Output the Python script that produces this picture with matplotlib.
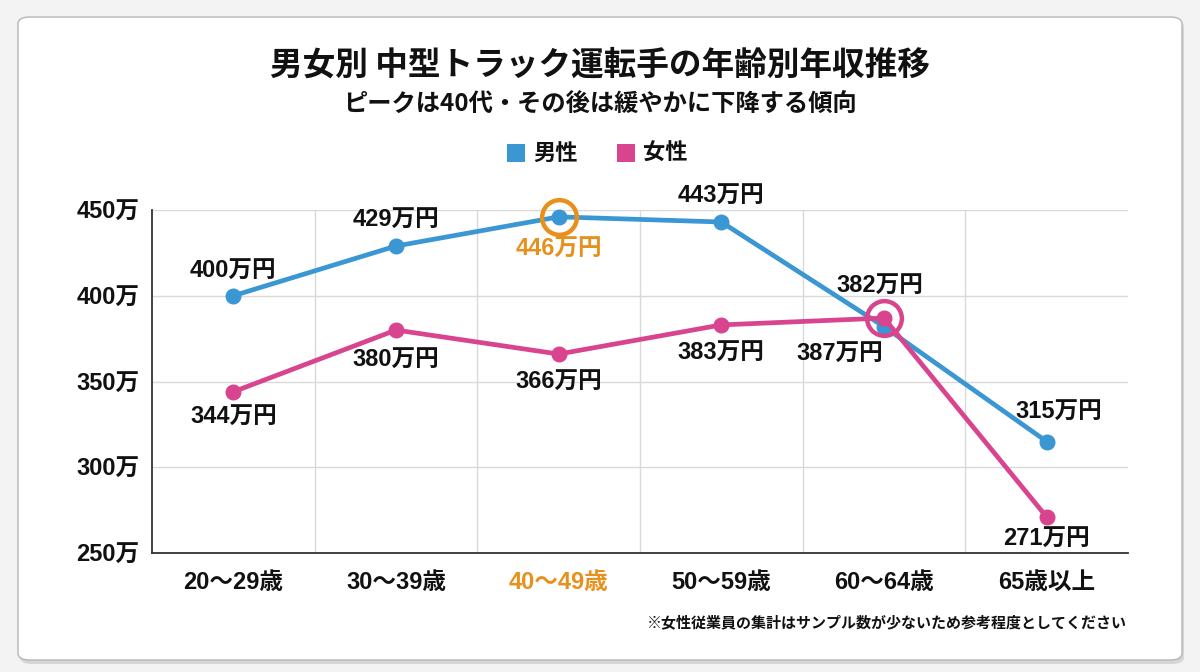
import matplotlib
matplotlib.use("Agg")
import matplotlib.pyplot as plt
from matplotlib.patches import FancyBboxPatch

plt.rcParams['font.family'] = ['Noto Sans CJK JP', 'DejaVu Sans']

categories = ["20〜29歳", "30〜39歳", "40〜49歳", "50〜59歳", "60〜64歳", "65歳以上"]
male = [400, 429, 446, 443, 382, 315]
female = [344, 380, 366, 383, 387, 271]
yticks = [250, 300, 350, 400, 450]
ytick_labels = ["250万", "300万", "350万", "400万", "450万"]

BLUE = "#3b97d3"
PINK = "#d9448f"
ORANGE = "#e8901c"
DARK = "#111111"
NUMFONT = ['Liberation Sans', 'Noto Sans CJK JP', 'DejaVu Sans']

fig = plt.figure(figsize=(12, 6.72), dpi=100)
fig.patch.set_facecolor("#f3f3f3")

# card with shadow
shadow = FancyBboxPatch((20 / 1200, 8 / 672), 1164 / 1200, 644 / 672,
                        boxstyle="round,pad=0,rounding_size=0.01",
                        transform=fig.transFigure, facecolor="#d6d6d6",
                        edgecolor="none", zorder=0)
card = FancyBboxPatch((18 / 1200, 12 / 672), 1164 / 1200, 643 / 672,
                      boxstyle="round,pad=0,rounding_size=0.01",
                      transform=fig.transFigure, facecolor="white",
                      edgecolor="#b5b5b5", linewidth=1.0, zorder=0.5)
fig.patches.extend([shadow, card])

ax = fig.add_axes([152 / 1200, 1 - 553 / 672, (1128 - 152) / 1200, (553 - 210) / 672])
ax.set_zorder(3)
ax.set_facecolor("none")
x = list(range(len(categories)))

ax.set_xlim(-0.5, len(categories) - 0.5)
ax.set_ylim(250, 450)
ax.set_yticks(yticks)
ax.set_yticklabels(ytick_labels, fontsize=17, fontweight="bold", color=DARK, family=NUMFONT)
ax.set_xticks(x)
ax.set_xticklabels(categories, fontsize=17, fontweight="bold", color=DARK, family=NUMFONT)
ax.get_xticklabels()[2].set_color(ORANGE)
ax.tick_params(axis="both", length=0)
ax.tick_params(axis="y", pad=9)
ax.tick_params(axis="x", pad=13)

for s in ["top", "right"]:
    ax.spines[s].set_visible(False)
for s in ["left", "bottom"]:
    ax.spines[s].set_color("#333333")
    ax.spines[s].set_linewidth(1.3)

for v in yticks[1:]:
    ax.axhline(v, color="#d9d9d9", lw=1.0, zorder=1)
for b in [i + 0.5 for i in x[:-1]]:
    ax.axvline(b, color="#d9d9d9", lw=1.0, zorder=1)

ax.plot(x, male, color=BLUE, lw=3.4, marker="o", ms=10.5, zorder=3, clip_on=False)
ax.plot(x, female, color=PINK, lw=3.4, marker="o", ms=10.5, zorder=4, clip_on=False)

# highlight rings
ax.plot([x[2]], [male[2]], marker="o", ms=25, mfc="none", mec=ORANGE, mew=3.2, zorder=5, clip_on=False)
ax.plot([x[4]], [female[4]], marker="o", ms=25, mfc="none", mec=PINK, mew=3.2, zorder=5, clip_on=False)

lab_kw = dict(fontsize=17, fontweight="bold", color=DARK, ha="center", va="center",
              zorder=6, family=NUMFONT)
male_off = [(0, 24), (0, 26), (0, -32), (0, 26), (-4, 40), (12, 29)]
female_off = [(0, -26), (0, -30), (0, -28), (0, -28), (-44, -36), (0, -22)]
for i, v in enumerate(male):
    kw = dict(lab_kw)
    if i == 2:
        kw["color"] = ORANGE
    ax.annotate(f"{v}万円", (i, v), xytext=male_off[i], textcoords="offset pixels", **kw)
for i, v in enumerate(female):
    ax.annotate(f"{v}万円", (i, v), xytext=female_off[i], textcoords="offset pixels", **lab_kw)

# titles
fig.text(0.5, 1 - 65 / 672, "男女別 中型トラック運転手の年齢別年収推移", ha="center", va="center",
         fontsize=23.5, fontweight="bold", color=DARK)
fig.text(0.5, 1 - 105 / 672, "ピークは40代・その後は緩やかに下降する傾向", ha="center", va="center",
         fontsize=17.5, fontweight="bold", color=DARK)

# legend
fig.patches.append(FancyBboxPatch((507 / 1200, 1 - 162 / 672), 18 / 1200, 18 / 672,
                                  boxstyle="square,pad=0", transform=fig.transFigure,
                                  facecolor=BLUE, edgecolor="none"))
fig.text(533 / 1200, 1 - 153 / 672, "男性", ha="left", va="center", fontsize=16,
         fontweight="bold", color=DARK)
fig.patches.append(FancyBboxPatch((617 / 1200, 1 - 162 / 672), 18 / 1200, 18 / 672,
                                  boxstyle="square,pad=0", transform=fig.transFigure,
                                  facecolor=PINK, edgecolor="none"))
fig.text(643 / 1200, 1 - 153 / 672, "女性", ha="left", va="center", fontsize=16,
         fontweight="bold", color=DARK)

fig.text(1127 / 1200, 1 - 622 / 672, "※女性従業員の集計はサンプル数が少ないため参考程度としてください",
         ha="right", va="center", fontsize=10.8, fontweight="bold", color=DARK)

fig.savefig("out.png", dpi=100, facecolor=fig.get_facecolor())
